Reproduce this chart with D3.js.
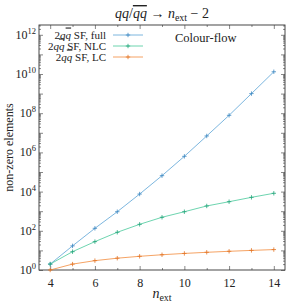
<!DOCTYPE html>
<html>
<head>
<meta charset="utf-8">
<script src="https://cdn.jsdelivr.net/npm/d3@7"></script>
<style>
  body { margin: 0; background: #fff; }
  svg { display: block; }
  svg text { font-family: "Liberation Serif", "DejaVu Serif", serif; }
</style>
</head>
<body>
<svg id="chart" width="287" height="304"></svg>
<script>
const width = 287;
const height = 304;
const margin = {top: 25, right: 2, bottom: 34, left: 39};
const serif = "'Liberation Serif', 'DejaVu Serif', serif";

// data
const nExt = [4, 5, 6, 7, 8, 9, 10, 11, 12, 13, 14];
const fullValues = [2, 17, 134, 940, 7.5e3, 6.5e4, 6.3e5, 6.9e6, 7.8e7, 1.0e9, 1.3e10];
const nlcValues = [2, 8.6, 28, 84, 214, 490, 940, 1850, 3050, 5100, 8200];
const lcValues = [1, 2, 3, 4, 5, 6, 7, 8, 9, 10, 11];

const seriesNames = ["full", "NLC", "LC"];
const seriesColors = ["#5aa3d6", "#48c99b", "#f28c3c"];
const markerColors = ["#3b86c0", "#22a57a", "#e27424"];
const xTicks = [4, 6, 8, 10, 12, 14];
const yLabelExps = [0, 2, 4, 6, 8, 10, 12];

const series = [fullValues, nlcValues, lcValues].map((vals, i) => ({
  name: seriesNames[i],
  color: seriesColors[i],
  marker: markerColors[i],
  points: nExt.map((n, j) => ({n: n, v: vals[j]}))
}));

const svg = d3.select("#chart").attr("font-family", serif);

const x = d3.scaleLinear()
  .domain([3.5, 14.5])
  .range([margin.left, width - margin.right]);

const y = d3.scaleLog()
  .domain([1, Math.pow(10, 12.5)])
  .range([height - margin.bottom, margin.top]);

const plotW = width - margin.right - margin.left;
const plotH = height - margin.bottom - margin.top;

// Ticks on all four sides, pointing inward
const decades = d3.range(0, 13).map(e => Math.pow(10, e));
const minors = [];
for (let e = 0; e < 13; e++) {
  for (let k = 2; k < 10; k++) {
    const v = k * Math.pow(10, e);
    if (v <= y.domain()[1]) minors.push(v);
  }
}

svg.append("g")
  .attr("transform", `translate(0,${height - margin.bottom})`)
  .call(d3.axisBottom(x).tickValues(xTicks).tickSize(-4).tickPadding(8).tickFormat(d3.format("d")))
  .call(g => g.select(".domain").remove());

svg.append("g")
  .attr("transform", `translate(0,${margin.top})`)
  .call(d3.axisTop(x).tickValues(xTicks).tickSize(-4).tickFormat(""))
  .call(g => g.select(".domain").remove());

svg.append("g")
  .attr("transform", `translate(0,${height - margin.bottom})`)
  .call(d3.axisBottom(x).tickValues(d3.range(5, 15, 2)).tickSize(-2).tickFormat(""))
  .call(g => g.select(".domain").remove());

svg.append("g")
  .attr("transform", `translate(0,${margin.top})`)
  .call(d3.axisTop(x).tickValues(d3.range(5, 15, 2)).tickSize(-2).tickFormat(""))
  .call(g => g.select(".domain").remove());

svg.append("g")
  .attr("transform", `translate(${margin.left},0)`)
  .call(d3.axisLeft(y).tickValues(decades).tickSize(-4).tickFormat(""))
  .call(g => g.select(".domain").remove());

svg.append("g")
  .attr("transform", `translate(${margin.left},0)`)
  .call(d3.axisLeft(y).tickValues(minors).tickSize(-2).tickFormat(""))
  .call(g => g.select(".domain").remove());

svg.append("g")
  .attr("transform", `translate(${width - margin.right},0)`)
  .call(d3.axisRight(y).tickValues(decades).tickSize(-4).tickFormat(""))
  .call(g => g.select(".domain").remove());

svg.append("g")
  .attr("transform", `translate(${width - margin.right},0)`)
  .call(d3.axisRight(y).tickValues(minors).tickSize(-2).tickFormat(""))
  .call(g => g.select(".domain").remove());

svg.selectAll(".tick line").attr("stroke", "#555").attr("stroke-width", 0.7);
svg.selectAll("g").attr("font-family", serif);
svg.selectAll(".tick text")
  .attr("font-family", serif)
  .attr("font-size", 12)
  .attr("fill", "#222");

// y labels as 10^e
const yLab = svg.append("g")
  .attr("font-size", 12)
  .attr("fill", "#222")
  .attr("text-anchor", "end");
yLabelExps.forEach(e => {
  const t = yLab.append("text")
    .attr("x", margin.left - 3)
    .attr("y", y(Math.pow(10, e)) + 4);
  t.append("tspan").text("10");
  t.append("tspan").attr("dy", -5).attr("font-size", 8.5).text(e);
});

// frame
svg.append("rect")
  .attr("x", margin.left)
  .attr("y", margin.top)
  .attr("width", plotW)
  .attr("height", plotH)
  .attr("fill", "none")
  .attr("stroke", "#333")
  .attr("stroke-width", 0.9);

// lines and markers
const line = d3.line()
  .x(d => x(d.n))
  .y(d => y(d.v));

const plot = svg.append("g");
series.forEach(s => {
  plot.append("path")
    .datum(s.points)
    .attr("fill", "none")
    .attr("stroke", s.color)
    .attr("stroke-width", 0.8)
    .attr("d", line);
  plot.selectAll(null)
    .data(s.points)
    .join("path")
    .attr("d", d => {
      const px = x(d.n), py = y(d.v), r = 2.2;
      return `M${px - r},${py}H${px + r}M${px},${py - r}V${py + r}`;
    })
    .attr("stroke", s.marker)
    .attr("stroke-width", 0.8);
});

// legend
const legend = svg.append("g").attr("font-size", 11).attr("fill", "#222");
series.forEach((s, i) => {
  const ly = 35 + i * 11;
  const t = legend.append("text")
    .attr("x", 106)
    .attr("y", ly + 3.5)
    .attr("text-anchor", "end");
  t.append("tspan").text("2");
  t.append("tspan").attr("font-style", "italic").text("q");
  t.append("tspan").attr("font-style", "italic").style("text-decoration", "overline").text("q");
  t.append("tspan").text(" SF, " + s.name);
  legend.append("line")
    .attr("x1", 113).attr("x2", 143)
    .attr("y1", ly).attr("y2", ly)
    .attr("stroke", s.color)
    .attr("stroke-width", 0.8);
  legend.append("path")
    .attr("d", `M125.8,${ly}H130.2M128,${ly - 2.2}V${ly + 2.2}`)
    .attr("stroke", s.marker)
    .attr("stroke-width", 0.8);
});

svg.append("text")
  .attr("x", 175)
  .attr("y", 42)
  .attr("font-size", 12.5)
  .attr("fill", "#222")
  .text("Colour-flow");

// title
const title = svg.append("text")
  .attr("x", margin.left + plotW / 2)
  .attr("y", 18)
  .attr("text-anchor", "middle")
  .attr("font-size", 14)
  .attr("fill", "#222");
title.append("tspan").attr("font-style", "italic").text("qq");
title.append("tspan").text("/");
title.append("tspan").attr("font-style", "italic").style("text-decoration", "overline").text("qq");
title.append("tspan").text(" \u2192 ");
title.append("tspan").attr("font-style", "italic").text("n");
title.append("tspan").attr("font-size", 10).attr("dy", 3).text("ext");
title.append("tspan").attr("dy", -3).text(" \u2212 2");

// axis titles
const xt = svg.append("text")
  .attr("x", margin.left + plotW / 2)
  .attr("y", 298)
  .attr("text-anchor", "middle")
  .attr("font-size", 14)
  .attr("fill", "#222");
xt.append("tspan").attr("font-style", "italic").text("n");
xt.append("tspan").attr("font-size", 10).attr("dy", 3).text("ext");

svg.append("text")
  .attr("transform", `translate(13,${margin.top + plotH / 2}) rotate(-90)`)
  .attr("text-anchor", "middle")
  .attr("font-size", 12)
  .attr("fill", "#222")
  .text("non-zero elements");
</script>
</body>
</html>
